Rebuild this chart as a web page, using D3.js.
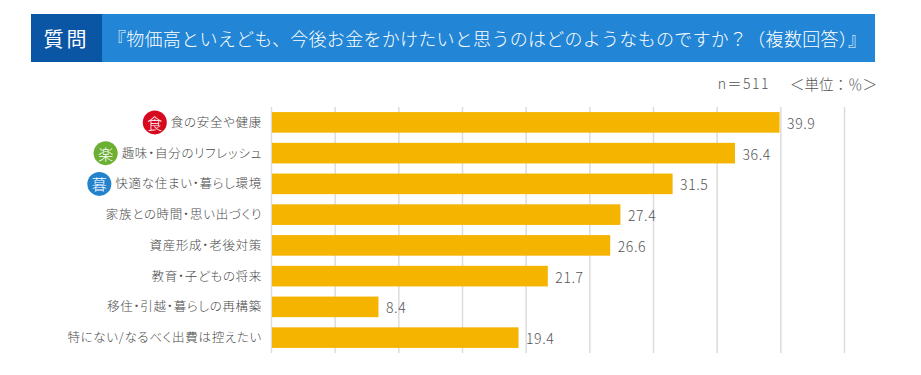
<!DOCTYPE html>
<html lang="ja">
<head>
    <meta charset="UTF-8">
    <title>物価高といえども、今後お金をかけたいと思うのはどのようなものですか?</title>
    <script src="https://d3js.org/d3.v7.min.js"></script>
    <style>
        body {
            margin: 0;
            background-color: white;
        }

        svg {
            display: block;
        }

        text {
            font-family: "Noto Sans CJK JP", sans-serif;
        }

        .x-axis path, .y-axis path {
            display: none;
        }

        .x-axis line {
            stroke: #dcdcdc;
            stroke-width: 1.5px;
        }

        .y-axis line {
            display: none;
        }

        .y-axis text {
            font-size: 12.5px;
            font-weight: 300;
            fill: #4a4a4a;
            font-feature-settings: "palt";
            letter-spacing: 0.7px;
        }

        .value {
            font-size: 14px;
            font-weight: 300;
            fill: #555;
            letter-spacing: 0.6px;
        }
    </style>
</head>
<body>
    <div id="chart"></div>

    <script>
        const categories = [
            "食の安全や健康",
            "趣味・自分のリフレッシュ",
            "快適な住まい・暮らし環境",
            "家族との時間・思い出づくり",
            "資産形成・老後対策",
            "教育・子どもの将来",
            "移住・引越・暮らしの再構築",
            "特にない/なるべく出費は控えたい"
        ];
        const values = [39.9, 36.4, 31.5, 27.4, 26.6, 21.7, 8.4, 19.4];
        const ticks = [0, 5, 10, 15, 20, 25, 30, 35, 40, 45];

        // badges beside the first three categories
        const badgeLabels = ["食", "楽", "暮"];
        const badgeColors = ["#d7091f", "#6cb033", "#2382cc"];

        // full-width punctuation written as escapes
        const headerTag = "質問";
        const headerTitle = "『物価高といえども、今後お金をかけたいと思うのはどのようなものですか\uFF1F\uFF08複数回答\uFF09』";
        const sampleNote = "n\uFF1D511";
        const unitNote = "\uFF1C単位\uFF1A\uFF05\uFF1E";

        const width = 921;
        const height = 375;

        const svg = d3.select("#chart")
            .append("svg")
            .attr("width", width)
            .attr("height", height);

        // Header band
        svg.append("rect")
            .attr("x", 31).attr("y", 14)
            .attr("width", 844).attr("height", 48)
            .attr("fill", "#2285d5");

        svg.append("rect")
            .attr("x", 31).attr("y", 14)
            .attr("width", 71).attr("height", 48)
            .attr("fill", "#0b55a5");

        svg.append("text")
            .attr("x", 66.5).attr("y", 38)
            .attr("text-anchor", "middle")
            .attr("dominant-baseline", "central")
            .attr("fill", "white")
            .style("font-size", "20px")
            .style("font-weight", 400)
            .style("letter-spacing", "3px")
            .text(headerTag);

        svg.append("text")
            .attr("x", 108).attr("y", 38)
            .attr("dominant-baseline", "central")
            .attr("fill", "white")
            .attr("textLength", 758)
            .attr("lengthAdjust", "spacing")
            .style("font-size", "18px")
            .style("font-weight", 300)
            .text(headerTitle);

        svg.append("text")
            .attr("x", 770).attr("y", 83)
            .attr("text-anchor", "end")
            .attr("dominant-baseline", "central")
            .attr("fill", "#555")
            .style("font-size", "14px")
            .style("font-weight", 300)
            .style("letter-spacing", "1.5px")
            .text(sampleNote);

        svg.append("text")
            .attr("x", 877).attr("y", 83)
            .attr("text-anchor", "end")
            .attr("dominant-baseline", "central")
            .attr("fill", "#555")
            .style("font-size", "14.5px")
            .style("font-weight", 300)
            .text(unitNote);

        // Scales
        const x = d3.scaleLinear()
            .domain([0, 45])
            .range([271, 844]);

        const y = d3.scaleBand()
            .domain(categories)
            .range([107, 353])
            .paddingInner(0.33)
            .paddingOuter(0.165);

        // Grid
        svg.append("g")
            .attr("class", "x-axis")
            .attr("transform", "translate(0, 353)")
            .call(d3.axisBottom(x).tickValues(ticks).tickSize(-246).tickFormat(""));

        // Bars
        svg.selectAll(".bar")
            .data(values)
            .enter()
            .append("rect")
            .attr("class", "bar")
            .attr("x", x(0) + 1)
            .attr("y", (d, i) => y(categories[i]))
            .attr("width", d => x(d) - x(0) - 0.5)
            .attr("height", y.bandwidth())
            .attr("fill", "#f4b400");

        // Value labels
        svg.selectAll(".value")
            .data(values)
            .enter()
            .append("text")
            .attr("class", "value")
            .attr("x", d => x(d) + 8)
            .attr("y", (d, i) => y(categories[i]) + y.bandwidth() / 2 + 0.5)
            .attr("dominant-baseline", "central")
            .text(d => d3.format(".1f")(d));

        // Category labels
        svg.append("g")
            .attr("class", "y-axis")
            .attr("transform", "translate(262, 0.5)")
            .call(d3.axisLeft(y).tickSize(0).tickPadding(0));

        // Badges to the left of each label
        const yLabels = svg.selectAll(".y-axis text").nodes();

        badgeLabels.forEach((label, i) => {
            const box = yLabels[i].getBBox();
            const cx = 262 + box.x - 16;
            const cy = y(categories[i]) + y.bandwidth() / 2;

            svg.append("circle")
                .attr("cx", cx)
                .attr("cy", cy)
                .attr("r", 12)
                .attr("fill", badgeColors[i]);

            svg.append("text")
                .attr("x", cx)
                .attr("y", cy)
                .attr("text-anchor", "middle")
                .attr("dominant-baseline", "central")
                .attr("fill", "white")
                .style("font-size", "15px")
                .style("font-weight", 300)
                .text(label);
        });
    </script>
</body>
</html>
